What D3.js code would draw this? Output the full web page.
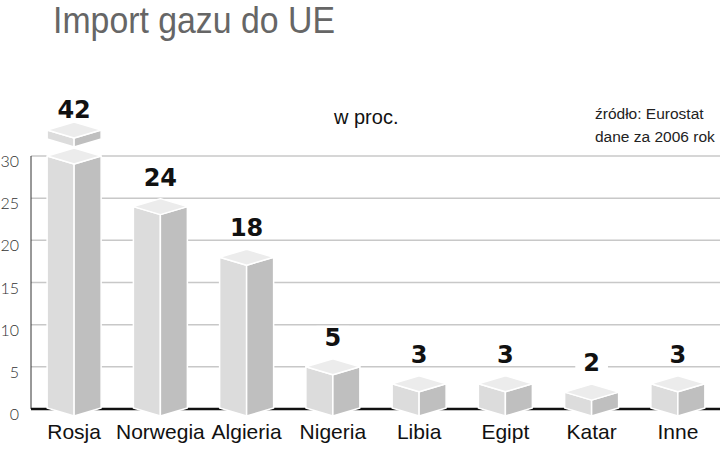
<!DOCTYPE html>
<html>
<head>
<meta charset="utf-8">
<script src="https://cdn.jsdelivr.net/npm/d3@7"></script>
<style>
  html, body { margin: 0; padding: 0; background: #fff; }
  svg { display: block; }
</style>
</head>
<body>
<svg id="chart" width="720" height="471"></svg>
<script>
const categories = ["Rosja", "Norwegia", "Algieria", "Nigeria", "Libia", "Egipt", "Katar", "Inne"];
const values = [42, 24, 18, 5, 3, 3, 2, 3];
const yTicks = [0, 5, 10, 15, 20, 25, 30];
const titleText = "Import gazu do UE";
const unitText = "w proc.";
const sourceLines = ["źródło: Eurostat", "dane za 2006 rok"];

const svg = d3.select("#chart");
const W = 720;
const yMax = 30;

const x = d3.scaleBand().domain(categories).range([31, 721])
  .paddingInner(0.374).paddingOuter(0.187);
const y = d3.scaleLinear().domain([0, yMax]).range([409, 156]);

// Title
svg.append("text")
  .attr("x", 53).attr("y", 33)
  .attr("font-family", "Liberation Sans, Arial, sans-serif")
  .attr("font-size", 37)
  .attr("fill", "#666")
  .attr("textLength", 282).attr("lengthAdjust", "spacingAndGlyphs")
  .text(titleText);

// Unit
svg.append("text")
  .attr("x", 334).attr("y", 124)
  .attr("font-family", "Liberation Sans, Arial, sans-serif")
  .attr("font-size", 20)
  .attr("fill", "#111")
  .text(unitText);

// Source
svg.append("g").selectAll("text").data(sourceLines).join("text")
  .attr("x", 595).attr("y", (d, i) => 119 + i * 23)
  .attr("font-family", "Liberation Sans, Arial, sans-serif")
  .attr("font-size", 15.5)
  .attr("fill", "#222")
  .text(d => d);

// Gridlines
const grid = svg.append("g");
grid.selectAll("line").data(yTicks.filter(t => t > 0)).join("line")
  .attr("x1", 31).attr("x2", W)
  .attr("y1", d => y(d)).attr("y2", d => y(d))
  .attr("stroke", "#c8c8c8").attr("stroke-width", 1.5);

// Y axis line
svg.append("line")
  .attr("x1", 31).attr("x2", 31)
  .attr("y1", y(yMax)).attr("y2", y(0))
  .attr("stroke", "#333").attr("stroke-width", 1);

// Y tick labels
svg.append("g").selectAll("text").data(yTicks).join("text")
  .attr("x", 19).attr("y", d => y(d) + 11)
  .attr("text-anchor", "end")
  .attr("font-family", "Lato, Liberation Sans, sans-serif")
  .attr("font-weight", 300)
  .attr("font-size", 16)
  .attr("fill", "#333")
  .text(d => d);

// Baseline
svg.append("line")
  .attr("x1", 31).attr("x2", W)
  .attr("y1", y(0)).attr("y2", y(0))
  .attr("stroke", "#111").attr("stroke-width", 2.5);

// Bars (isometric boxes)
const hw = x.bandwidth() / 2;
const dh = 8;
const capGap = 26;
const capThick = 9;
const colTop = "#ececec", colLeft = "#dcdcdc", colRight = "#bfbfbf";

function box(g, cx, yTop, yBot) {
  const pts = a => a.map(p => p.join(",")).join(" ");
  g.append("polygon").attr("points", pts([[cx - hw, yTop], [cx, yTop + dh], [cx, yBot + dh], [cx - hw, yBot]]))
    .attr("fill", colLeft).attr("stroke", "#fff").attr("stroke-width", 1.5).attr("stroke-linejoin", "round");
  g.append("polygon").attr("points", pts([[cx, yTop + dh], [cx + hw, yTop], [cx + hw, yBot], [cx, yBot + dh]]))
    .attr("fill", colRight).attr("stroke", "#fff").attr("stroke-width", 1.5).attr("stroke-linejoin", "round");
  g.append("polygon").attr("points", pts([[cx - hw, yTop], [cx, yTop - dh], [cx + hw, yTop], [cx, yTop + dh]]))
    .attr("fill", colTop).attr("stroke", "#fff").attr("stroke-width", 1.5).attr("stroke-linejoin", "round");
}

const bars = svg.append("g");
const labels = svg.append("g");
categories.forEach((c, i) => {
  const v = values[i];
  const cx = x(c) + hw;
  const yTop = y(Math.min(v, yMax));
  const g = bars.append("g");
  box(g, cx, yTop, y(0) - 1);
  let labelY;
  if (v > yMax) {
    const capTop = yTop - capGap;
    box(g, cx, capTop, capTop + capThick);
    labelY = capTop - dh - 4;
  } else {
    labelY = yTop - dh - 13;
  }
  const lg = labels.append("g");
  const t = lg.append("text")
    .attr("x", cx).attr("y", labelY)
    .attr("text-anchor", "middle")
    .attr("font-family", "DejaVu Sans, sans-serif")
    .attr("font-weight", "bold")
    .attr("font-size", 24)
    .attr("fill", "#111")
    .text(v);
  const bb = t.node().getBBox();
  lg.insert("rect", "text")
    .attr("x", bb.x - 8).attr("width", bb.width + 16)
    .attr("y", labelY - 20).attr("height", 22)
    .attr("fill", "#fff");
});

// Category labels
svg.append("g").selectAll("text").data(categories).join("text")
  .attr("x", d => x(d) + hw)
  .attr("y", 439)
  .attr("text-anchor", "middle")
  .attr("font-family", "Liberation Sans, Arial, sans-serif")
  .attr("font-size", 21)
  .attr("fill", "#111")
  .text(d => d);
</script>
</body>
</html>
